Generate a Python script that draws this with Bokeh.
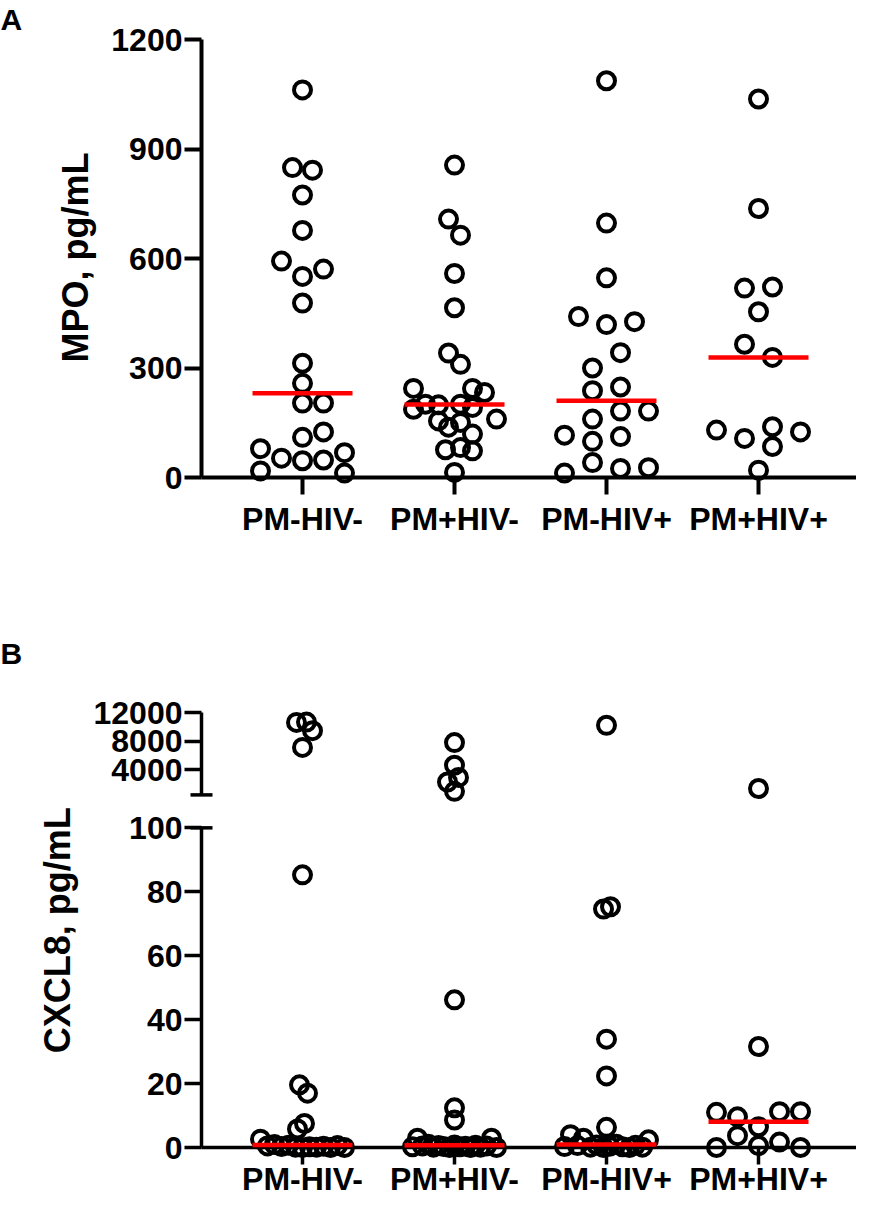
import numpy as np
from bokeh.plotting import figure
from bokeh.models import Range1d, FixedTicker
from bokeh.core.properties import value
from bokeh.layouts import column
from bokeh.embed import file_html
from bokeh.resources import INLINE

# ---------------- data ----------------
categories = ["PM-HIV-", "PM+HIV-", "PM-HIV+", "PM+HIV+"]

# Panel A: MPO, pg/mL
mpo_pmneg_hivneg = [1062, 849, 842, 774, 677, 593, 571, 551, 478, 313, 258, 204, 204,
                    125, 110, 79, 68, 53, 46, 48, 18, 12]
mpo_pmpos_hivneg = [856, 708, 664, 559, 465, 341, 310, 244, 233, 244, 201, 199, 201,
                    192, 187, 160, 155, 138, 151, 119, 76, 82, 73, 14]
mpo_pmneg_hivpos = [1087, 697, 547, 441, 427, 419, 342, 300, 248, 238, 182, 182, 160,
                    116, 112, 99, 41, 25, 27, 12]
mpo_pmpos_hivpos = [1037, 737, 519, 522, 454, 365, 329, 139, 130, 125, 107, 85, 20]

# horizontal scatter of each point (pixels from the category centre)
mpo_pmneg_hivneg_dx = [0, -10, 10, 0, 0, -21, 21, 0, 0, 0, 0, 0, 21, 21, 0, -42, 42,
                       -21, 0, 21, -42, 42]
mpo_pmpos_hivneg_dx = [0, -6, 6, 0, 0, -6, 6, 18, 30, -41, -29, -16, 6, 18, -41, 42,
                       -16, -6, 6, 18, -9, 6, 18, 0]
mpo_pmneg_hivpos_dx = [0, 0, 0, -28, 28, 0, 14, -14, 14, -14, 14, 42, -14, -42, 14,
                       -14, -14, 14, 42, -42]
mpo_pmpos_hivpos_dx = [0, 0, -14, 14, 0, -14, 14, 14, -42, 42, -14, 14, 0]

# Panel B: CXCL8, pg/mL
cx_pmneg_hivneg = [10650, 10700, 9500, 7150, 85.3, 19.6, 17.0, 7.5, 5.8,
                   2.6, 0.5, 0.9, 0.3, 0.7, 0.1, 0, 0.2, 0.1, 0.4, 0, 0.6, 0]
cx_pmpos_hivneg = [7830, 4650, 2950, 2300, 1000, 46.2, 12.4, 8.6,
                   0.2, 2.9, 0.5, 1.0, 0.1, 0.6, 0.3, 0, 0.8, 0.2, 0.4, 0, 0.7, 0.1,
                   0.5, 2.9, 0]
cx_pmneg_hivpos = [10250, 75.3, 74.6, 33.9, 22.4, 6.3,
                   0.3, 4.0, 0.6, 2.9, 0.1, 0.8, 0, 0.4, 1.0, 0.2, 0, 0.7, 0.1, 2.4]
cx_pmpos_hivpos = [1400, 31.6, 11.0, 9.6, 6.5, 11.2, 11.2, 3.7, 0, 0.6, 1.7, 0]

cx_pmneg_hivneg_dx = [-6, 4, 10, 0, 0, -3, 5, 2, -5,
                      -42, -35, -28, -21, -14, -7, 0, 7, 14, 21, 28, 35, 42]
cx_pmpos_hivneg_dx = [0, 0, 4, -7, 0, 0, 0, 0,
                      -42, -37, -32, -26, -21, -16, -11, -5, 0, 5, 11, 16, 21, 26,
                      32, 37, 42]
cx_pmneg_hivpos_dx = [0, 4, -3, 0, 0, 0,
                      -42, -36, -29, -23, -16, -10, -3, 3, 10, 16, 23, 29, 36, 42]
cx_pmpos_hivpos_dx = [0, 0, -42, -21, 0, 21, 42, -21, -42, 0, 21, 42]

mpo_ticks = [0, 300, 600, 900, 1200]
cx_low_ticks = [0, 20, 40, 60, 80, 100]
cx_high_ticks = [4000, 8000, 12000]
cx_break = (100, 500)   # lower segment top / upper segment bottom

mpo_groups = [mpo_pmneg_hivneg, mpo_pmpos_hivneg, mpo_pmneg_hivpos, mpo_pmpos_hivpos]
mpo_dx = [mpo_pmneg_hivneg_dx, mpo_pmpos_hivneg_dx, mpo_pmneg_hivpos_dx, mpo_pmpos_hivpos_dx]
cx_groups = [cx_pmneg_hivneg, cx_pmpos_hivneg, cx_pmneg_hivpos, cx_pmpos_hivpos]
cx_dx = [cx_pmneg_hivneg_dx, cx_pmpos_hivneg_dx, cx_pmneg_hivpos_dx, cx_pmpos_hivpos_dx]

# ---------------- layout / style ----------------
FONT = "Liberation Sans"
W = 856
LEFT = 201
SP = 152.0                      # pixels per category
X0 = 1 - 101 / SP
X1 = X0 + (W - LEFT) / SP
HALF = 50 / SP                  # half width of median bar
xr = Range1d(X0, X1)
CIRC = dict(marker="circle", size=17, fill_color=None, line_color="black",
            line_width=4, level="overlay")
MED = dict(line_color="#ff0000", line_width=4.5, level="overlay")


def xdata(px):
    # page pixel -> x data (frame left is page x 209)
    return X0 + (px - 209) / SP


def ydata(py, top_px, bot_px, y0, y1):
    return y0 + (bot_px - py) * (y1 - y0) / (bot_px - top_px)


def base(height, yr, top, bottom, xaxis=True):
    p = figure(width=W, height=height, x_range=xr, y_range=yr,
               output_backend="svg", toolbar_location=None,
               min_border_left=LEFT, min_border_right=0,
               min_border_top=top, min_border_bottom=bottom,
               x_axis_location="below" if xaxis else None)
    p.grid.visible = False
    p.outline_line_color = None
    p.background_fill_color = "white"
    p.border_fill_color = "white"
    return p


def style(p, lw, xstand):
    for ax in p.axis:
        ax.axis_line_width = lw
        ax.axis_line_color = "black"
        ax.major_tick_line_width = lw
        ax.major_tick_line_color = "black"
        ax.major_tick_out = 17
        ax.major_tick_in = 0
        ax.minor_tick_line_color = None
        ax.major_label_text_font = FONT
        ax.major_label_text_font_style = "bold"
        ax.major_label_text_font_size = "32px"
        ax.major_label_text_color = "black"
    p.yaxis.major_label_standoff = 2
    if p.xaxis:
        p.xaxis.ticker = FixedTicker(ticks=[1, 2, 3, 4])
        p.xaxis.major_label_overrides = {i + 1: c for i, c in enumerate(categories)}
        p.xaxis.major_label_standoff = xstand


def free_text(p, text, px, py, yinfo, size, angle=0.0, align="left",
              baseline="alphabetic"):
    p.text(x=[xdata(px)], y=[ydata(py, *yinfo)], text=[text], angle=angle,
           text_font=value(FONT), text_font_style="bold", text_font_size=size,
           text_align=align, text_baseline=baseline, text_color="black",
           level="overlay")


def xs(i, dx):
    return [i + 1 + d / SP for d in dx]


# ---------------- Panel A ----------------
A_Y = (45, 485, 0, 1205.5)
pA = base(600, Range1d(0, 1205.5), 37, 123)
for i, (vals, dx) in enumerate(zip(mpo_groups, mpo_dx)):
    pA.scatter(xs(i, dx), vals, **CIRC)
for i, vals in enumerate(mpo_groups):
    m = float(np.median(vals))
    pA.segment(x0=[i + 1 - HALF], y0=[m], x1=[i + 1 + HALF], y1=[m], **MED)
style(pA, 4, 6)
pA.yaxis.ticker = FixedTicker(ticks=mpo_ticks)
pA.yaxis.bounds = (0, 1200)
pA.yaxis.axis_label = "MPO, pg/mL"
pA.yaxis.axis_label_text_font = FONT
pA.yaxis.axis_label_text_font_style = "bold"
pA.yaxis.axis_label_text_font_size = "36px"
pA.yaxis.axis_label_text_color = "black"
pA.yaxis.axis_label_standoff = 12
free_text(pA, "A", 8, 27, A_Y, "30px")

# ---------------- Panel B, upper segment ----------------
BU_Y = (705, 812, -845, 14143)
pBu = base(204, Range1d(-845, 14143), 97, 0, xaxis=False)
for i, (vals, dx) in enumerate(zip(cx_groups, cx_dx)):
    x = xs(i, dx)
    sel = [k for k, v in enumerate(vals) if v > cx_break[0]]
    if sel:
        pBu.scatter([x[k] for k in sel], [vals[k] for k in sel], **CIRC)
style(pBu, 3.5, 0)
pBu.yaxis.ticker = FixedTicker(ticks=cx_high_ticks)
pBu.yaxis.bounds = (cx_break[1], 12000)
pBu.scatter([X0], [cx_break[1]], marker="dash", size=22, line_color="black",
            line_width=3.5, level="overlay")
free_text(pBu, "B", 8, 661, BU_Y, "30px")

# ---------------- Panel B, lower segment ----------------
BL_Y = (812, 1150, 0, 107.3)
pBl = base(395, Range1d(0, 107.3), 0, 47)
for i, (vals, dx) in enumerate(zip(cx_groups, cx_dx)):
    x = xs(i, dx)
    sel = [k for k, v in enumerate(vals) if v <= cx_break[0]]
    pBl.scatter([x[k] for k in sel], [vals[k] for k in sel], **CIRC)
for i, vals in enumerate(cx_groups):
    m = float(np.median(vals))
    pBl.segment(x0=[i + 1 - HALF], y0=[m], x1=[i + 1 + HALF], y1=[m], **MED)
style(pBl, 3.5, -4)
pBl.yaxis.ticker = FixedTicker(ticks=cx_low_ticks)
pBl.yaxis.bounds = (0, cx_break[0])
pBl.scatter([X0], [cx_break[0]], marker="dash", size=22, line_color="black",
            line_width=3.5, level="overlay")
free_text(pBl, "CXCL8, pg/mL", 65, 936, BL_Y, "36px", angle=np.pi / 2,
          align="center", baseline="middle")

layout = column(pA, pBu, pBl)
open("out.html", "w").write(file_html(layout, INLINE))
